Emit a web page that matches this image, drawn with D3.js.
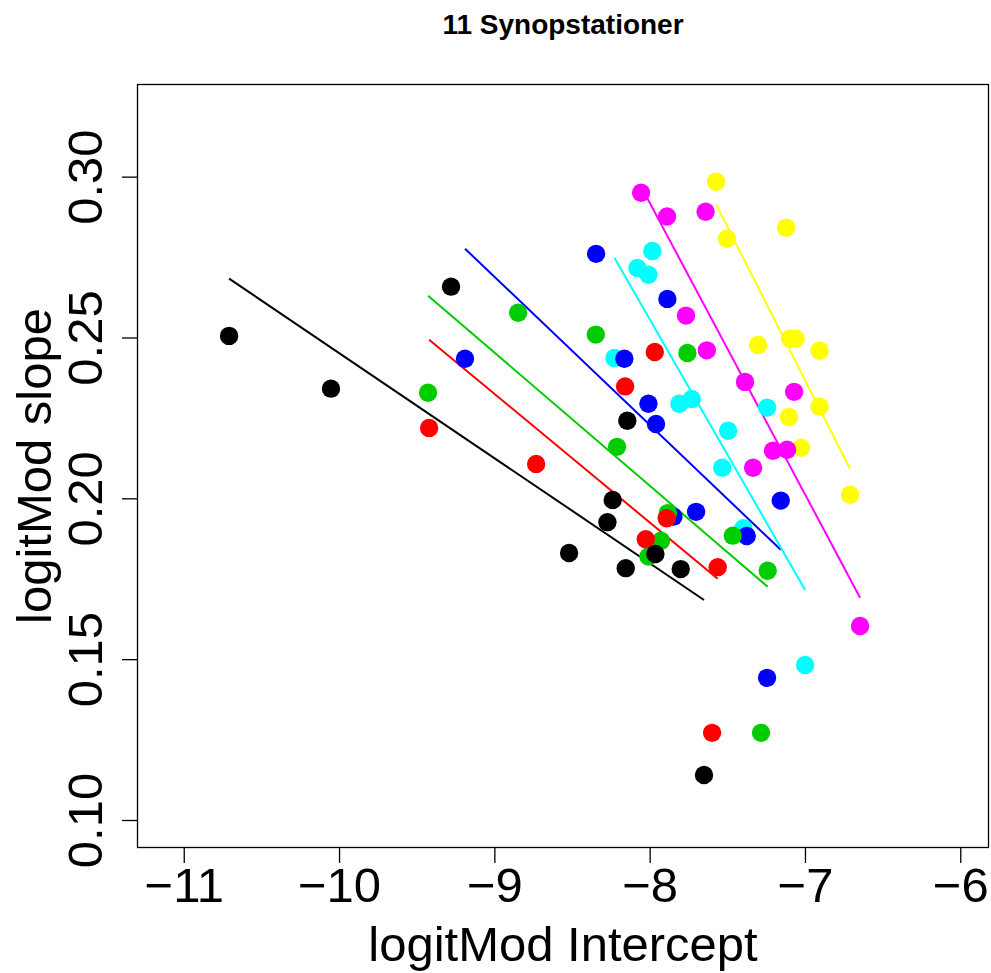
<!DOCTYPE html>
<html>
<head>
<meta charset="utf-8">
<script src="https://cdn.jsdelivr.net/npm/d3@7"></script>
<style>
  html, body { margin: 0; padding: 0; background: #fff; }
  svg text { font-family: "Liberation Sans", Arial, Helvetica, sans-serif; fill: #000; }
</style>
</head>
<body>
<div id="chart"></div>
<script>
// one entry per group, drawn yellow first so black ends on top
var groupNames = ['black', 'red', 'green', 'blue', 'cyan', 'magenta', 'yellow'];
var groupColors = ['#000000', '#FF0000', '#00CD00', '#0000FF', '#00FFFF', '#FF00FF', '#FFFF00'];

// logitMod intercept per station
var intercepts = [
    [-10.708, -10.052, -9.279, -8.144, -8.238, -8.272, -8.519, -7.963, -8.154, -7.800, -7.650],
    [-9.420, -8.731, -8.158, -7.967, -8.025, -7.890, -7.562, -7.598],
    [-9.427, -8.847, -8.347, -7.757, -8.210, -7.883, -7.927, -8.008, -7.465, -7.240, -7.283],
    [-9.189, -8.345, -7.886, -8.163, -8.008, -7.959, -7.156, -7.847, -7.701, -7.375, -7.244],
    [-7.983, -8.079, -8.008, -8.227, -7.809, -7.729, -7.244, -7.495, -7.533, -7.397, -6.999],
    [-8.055, -7.888, -7.640, -7.766, -7.632, -7.386, -7.070, -7.206, -7.115, -7.334, -6.645],
    [-7.572, -7.122, -7.502, -7.302, -7.096, -7.060, -6.906, -6.906, -7.103, -7.025, -6.710]
];

// logitMod slope per station
var slopes = [
    [0.2505, 0.2341, 0.2658, 0.2241, 0.1995, 0.1926, 0.1830, 0.1827, 0.1783, 0.1780, 0.1140],
    [0.2219, 0.2107, 0.2348, 0.2455, 0.1873, 0.1938, 0.1786, 0.1271],
    [0.2328, 0.2577, 0.2509, 0.2452, 0.2160, 0.1954, 0.1868, 0.1819, 0.1884, 0.1775, 0.1271],
    [0.2434, 0.2760, 0.2620, 0.2434, 0.2294, 0.2231, 0.1993, 0.1943, 0.1958, 0.1883, 0.1442],
    [0.2769, 0.2716, 0.2695, 0.2436, 0.2294, 0.2309, 0.2282, 0.2210, 0.2095, 0.1907, 0.1482],
    [0.2950, 0.2876, 0.2891, 0.2568, 0.2460, 0.2362, 0.2331, 0.2148, 0.2151, 0.2095, 0.1603],
    [0.2984, 0.2841, 0.2807, 0.2477, 0.2496, 0.2496, 0.2459, 0.2285, 0.2253, 0.2157, 0.2011]
];

// fitted line: slope value at the smallest and largest intercept of the group
var lineStart = [0.2683, 0.2493, 0.2630, 0.2776, 0.2748, 0.2969, 0.2913];
var lineEnd = [0.1684, 0.1750, 0.1725, 0.1840, 0.1715, 0.1691, 0.2092];

var xTicks = [-11, -10, -9, -8, -7, -6];
var yTicks = [0.10, 0.15, 0.20, 0.25, 0.30];

var title = '11 Synopstationer';
var xLabel = 'logitMod Intercept';
var yLabel = 'logitMod slope';

var width = 991, height = 973;
var margin = {top: 84, right: 2, bottom: 125, left: 137};
var plotW = width - margin.left - margin.right;
var plotH = height - margin.top - margin.bottom;

var svg = d3.select('#chart')
    .append('svg')
    .attr('width', width)
    .attr('height', height);

var g = svg.append('g')
    .attr('transform', 'translate(' + margin.left + ',' + margin.top + ')');

var x = d3.scaleLinear()
    .domain([-11.301, -5.815])
    .range([0, plotW]);

var y = d3.scaleLinear()
    .domain([0.0913, 0.3288])
    .range([plotH, 0]);

// box
g.append('rect')
    .attr('x', 0.5)
    .attr('y', 0.5)
    .attr('width', plotW - 1)
    .attr('height', plotH - 1)
    .attr('fill', 'none')
    .attr('stroke', '#000')
    .attr('stroke-width', 1.3);

// axes
var xAxis = d3.axisBottom(x)
    .tickValues(xTicks)
    .tickSize(15)
    .tickPadding(4)
    .tickFormat(d3.format('d'));

var gx = g.append('g')
    .attr('transform', 'translate(0,' + plotH + ')')
    .call(xAxis);
gx.select('.domain').remove();
gx.selectAll('line').attr('stroke', '#000').attr('stroke-width', 1.3);
gx.selectAll('text')
    .attr('y', 54)
    .attr('dy', 0)
    .style('font-size', '49px');

var yAxis = d3.axisLeft(y)
    .tickValues(yTicks)
    .tickSize(15)
    .tickFormat(d3.format('.2f'));

var gy = g.append('g').call(yAxis);
gy.select('.domain').remove();
gy.selectAll('line').attr('stroke', '#000').attr('stroke-width', 1.3);
gy.selectAll('text')
    .attr('x', 0)
    .attr('dy', 0)
    .attr('transform', 'translate(' + (102 - margin.left) + ',0) rotate(-90)')
    .attr('text-anchor', 'middle')
    .style('font-size', '49px');

// regression lines
groupNames.forEach(function(name, i) {
    var xs = intercepts[i];
    var seg = [
        {x: d3.min(xs), y: lineStart[i]},
        {x: d3.max(xs), y: lineEnd[i]}
    ];
    g.append('path')
        .datum(seg)
        .attr('d', d3.line().x(function(d) { return x(d.x); }).y(function(d) { return y(d.y); }))
        .attr('stroke', groupColors[i])
        .attr('stroke-width', 2)
        .attr('fill', 'none');
});

// points, last group first
for (var i = groupNames.length - 1; i >= 0; i--) {
    var pts = intercepts[i].map(function(v, j) { return {x: v, y: slopes[i][j]}; });
    g.append('g')
        .selectAll('circle')
        .data(pts)
        .enter()
        .append('circle')
        .attr('cx', function(d) { return x(d.x); })
        .attr('cy', function(d) { return y(d.y); })
        .attr('r', 9.2)
        .attr('fill', groupColors[i]);
}

// title and axis labels
svg.append('text')
    .attr('x', margin.left + plotW / 2)
    .attr('y', 34)
    .attr('text-anchor', 'middle')
    .style('font-size', '28px')
    .style('font-weight', 'bold')
    .text(title);

svg.append('text')
    .attr('x', margin.left + plotW / 2)
    .attr('y', 961)
    .attr('text-anchor', 'middle')
    .style('font-size', '49px')
    .text(xLabel);

svg.append('text')
    .attr('transform', 'translate(51,' + (margin.top + plotH / 2) + ') rotate(-90)')
    .attr('text-anchor', 'middle')
    .style('font-size', '49px')
    .text(yLabel);
</script>
</body>
</html>
